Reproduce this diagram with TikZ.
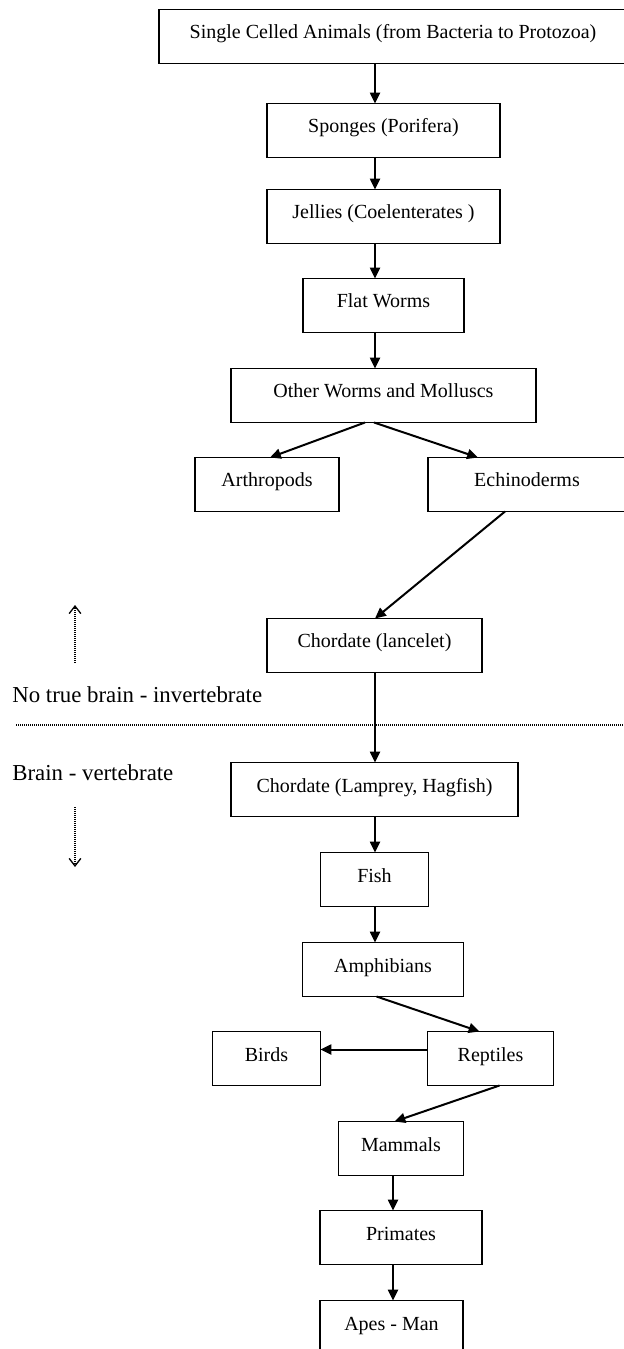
\documentclass[tikz,border=0pt]{standalone}
\usepackage{fontspec}
\setmainfont{Liberation Serif}
\usepackage{tikz}
\usetikzlibrary{arrows.meta, positioning}

\begin{document}
\begin{tikzpicture}[
    x=0.6pt, y=-0.6pt,
    box/.style={draw, line width=0.7pt, minimum height=32.4pt, inner sep=0pt, outer sep=0pt, text height=8.4pt, text depth=5.4pt, font=\fontsize{12}{14}\selectfont},
    arrow/.style={-{Triangle[length=6.5pt, width=6pt]}, line width=1.2pt},
    hint/.style={-{Straight Barb[length=4.5pt, width=7pt, line width=0.8pt]}, line width=0.8pt, dash pattern=on 0.7pt off 0.5pt},
    divider/.style={line width=0.7pt, dash pattern=on 0.7pt off 0.5pt},
    note/.style={anchor=west, inner sep=0pt, font=\fontsize{13.7}{16}\selectfont}
]
    \useasboundingbox (0,0) rectangle (623,1349);

    \node[box, minimum width=280.8pt] (single) at (393,36.5) {Single Celled Animals (from Bacteria to Protozoa)};
    \node[box, minimum width=139.8pt, below=24pt of single, xshift=-5.7pt] (sponges) {Sponges (Porifera)};
    \node[box, minimum width=139.8pt, below=19.2pt of sponges] (jellies) {Jellies (Coelenterates )};
    \node[box, minimum width=96.6pt, below=21pt of jellies] (flat) {Flat Worms};
    \node[box, minimum width=183pt, below=21.6pt of flat] (others) {Other Worms and Molluscs};
    \node[box, minimum width=86.4pt, below=21pt of others, xshift=-69.9pt] (arthro) {Arthropods};
    \node[box, minimum width=118.8pt, below=21pt of others, xshift=86.1pt] (echino) {Echinoderms};
    \node[box, minimum width=129pt, below=64.2pt of arthro, xshift=64.5pt] (lancelet) {Chordate (lancelet)};
    \node[box, minimum width=172.2pt, below=54pt of lancelet] (lamprey) {Chordate (Lamprey, Hagfish)};
    \node[box, minimum width=64.8pt, below=21.6pt of lamprey] (fish) {Fish};
    \node[box, minimum width=96.6pt, below=21.6pt of fish, xshift=5.1pt] (amphib) {Amphibians};
    \node[box, minimum width=64.8pt, below=21pt of amphib, xshift=-69.9pt] (birds) {Birds};
    \node[box, minimum width=75.6pt, below=21pt of amphib, xshift=64.5pt] (reptiles) {Reptiles};
    \node[box, minimum width=75pt, below=21.6pt of reptiles, xshift=-53.7pt] (mammals) {Mammals};
    \node[box, minimum width=97.2pt, below=21pt of mammals] (primates) {Primates};
    \node[box, minimum width=85.8pt, below=21.6pt of primates, xshift=-5.7pt] (apes) {Apes - Man};

    \coordinate (spine) at (375,0);
    \coordinate (lowspine) at (393,0);

    \draw[arrow] (single.south -| spine) -- (sponges.north -| spine);
    \draw[arrow] (sponges.south -| spine) -- (jellies.north -| spine);
    \draw[arrow] (jellies.south -| spine) -- (flat.north -| spine);
    \draw[arrow] (flat.south -| spine) -- (others.north -| spine);
    \draw[arrow] ([xshift=-11.1pt]others.south) -- ([xshift=1.8pt]arthro.north);
    \draw[arrow] ([xshift=-5.7pt]others.south) -- ([xshift=-29.4pt]echino.north);
    \draw[arrow] ([xshift=-13.2pt]echino.south) -- (lancelet.north -| spine);
    \draw[arrow] (lancelet.south -| spine) -- (lamprey.north -| spine);
    \draw[arrow] (lamprey.south -| spine) -- (fish.north -| spine);
    \draw[arrow] (fish.south -| spine) -- (amphib.north -| spine);
    \draw[arrow] ([xshift=-3.9pt]amphib.south) -- ([xshift=-6.6pt]reptiles.north);
    \draw[arrow] ([yshift=5.4pt]reptiles.west) -- ([yshift=5.4pt]birds.east);
    \draw[arrow] ([xshift=5.4pt]reptiles.south) -- ([xshift=-3.9pt]mammals.north);
    \draw[arrow] (mammals.south -| lowspine) -- (primates.north -| lowspine);
    \draw[arrow] (primates.south -| lowspine) -- (apes.north -| lowspine);

    \node[note] (nobrain) at (12,695) {No true brain - invertebrate};
    \node[note] (brain) at (12,773) {Brain - vertebrate};

    \coordinate (uptail) at (75,663);
    \coordinate (uptip) at (75,605);
    \coordinate (downtail) at (75,807);
    \coordinate (downtip) at (75,867);
    \coordinate (divleft) at (16,725);
    \coordinate (divright) at (623,725);

    \draw[hint] (uptail) -- (uptip);
    \draw[hint] (downtail) -- (downtip);
    \draw[divider] (divleft) -- (divright);
\end{tikzpicture}
\end{document}
